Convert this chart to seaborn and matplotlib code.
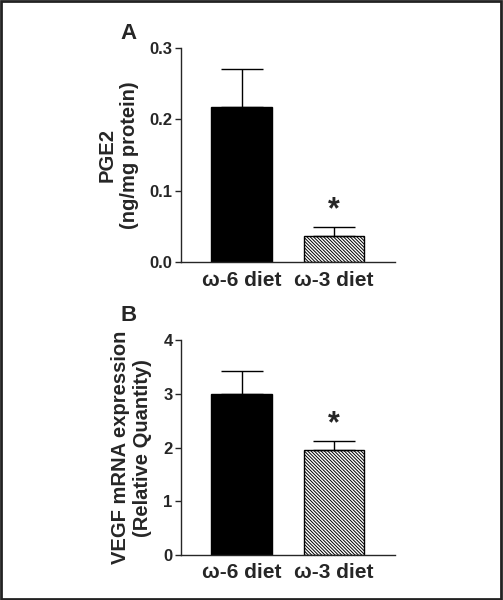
import matplotlib
matplotlib.use("Agg")
import matplotlib.pyplot as plt
import seaborn as sns
import pandas as pd
from matplotlib.patches import Rectangle

# data
groups = ["ω-6 diet", "ω-3 diet"]
pge2 = [0.218, 0.037]
pge2_sem = [0.052, 0.012]
vegf = [3.0, 1.96]
vegf_sem = [0.42, 0.16]

sns.set_style("ticks")
plt.rcParams['font.family'] = ['Liberation Sans', 'DejaVu Sans']
plt.rcParams['font.weight'] = 'bold'
plt.rcParams['hatch.linewidth'] = 0.7

fig = plt.figure(figsize=(5.03, 6), dpi=100)
axA = fig.add_axes([0.360, 0.563, 0.425, 0.357])
axB = fig.add_axes([0.360, 0.075, 0.425, 0.358])


def panel(ax, vals, errs, ylim, yticks, yfmt, ylabel, letter, letter_y):
    df = pd.DataFrame({'group': groups, 'value': vals})
    sns.barplot(data=df, x='group', y='value', ax=ax, width=0.66,
                color='black', edgecolor='black', linewidth=1, errorbar=None)
    bars = ax.patches
    bars[1].set_facecolor('white')
    bars[1].set_hatch('\\' * 10)
    ax.errorbar([0, 1], vals, yerr=[[0, 0], errs], fmt='none', ecolor='black',
                elinewidth=1, capsize=15, capthick=1)
    # significance star
    ax.text(1, vals[1] + errs[1] + (ylim[1] * 0.01), '*', ha='center', va='bottom',
            fontsize=22, fontweight='bold')
    ax.set_xlim(-0.66, 1.66)
    ax.set_ylim(*ylim)
    ax.set_yticks(yticks)
    ax.set_yticklabels([yfmt.format(t) for t in yticks], fontsize=12, fontweight='bold')
    ax.set_xticks([0, 1])
    ax.set_xticklabels(groups, fontsize=15, fontweight='bold')
    ax.tick_params(axis='x', length=0, pad=6)
    ax.tick_params(axis='y', length=4, width=1, pad=2)
    ax.set_xlabel('')
    ax.set_ylabel(ylabel, fontsize=14.5, fontweight='bold', labelpad=8)
    sns.despine(ax=ax)
    for s in ['left', 'bottom']:
        ax.spines[s].set_linewidth(1)
    ax.text(-0.21, letter_y, letter, transform=ax.transAxes, fontsize=16,
            fontweight='bold', ha='right', va='bottom')


panel(axA, pge2, pge2_sem, (0, 0.3), [0.0, 0.1, 0.2, 0.3], '{:.1f}',
      'PGE2\n(ng/mg protein)', 'A', 1.02)
panel(axB, vegf, vegf_sem, (0, 4), [0, 1, 2, 3, 4], '{:.0f}',
      'VEGF mRNA expression\n(Relative Quantity)', 'B', 1.065)

# frame around the whole figure
fig.patches.append(Rectangle((0.002, 0.002), 0.994, 0.996, transform=fig.transFigure,
                             fill=False, edgecolor='#222222', linewidth=2))

fig.savefig('out.png', dpi=100)
